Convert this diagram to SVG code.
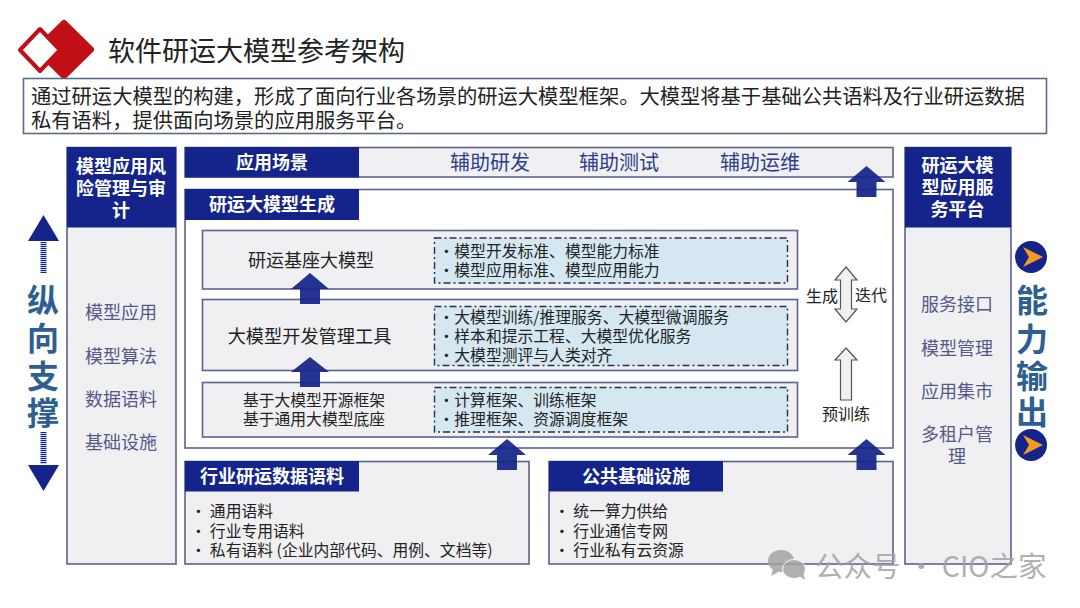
<svg xmlns="http://www.w3.org/2000/svg" width="1080" height="608" viewBox="0 0 1080 608">
<style>
text{font-family:"Noto Sans CJK SC","Liberation Sans",sans-serif;dominant-baseline:central;white-space:pre}
.m{text-anchor:middle}
.panel{fill:#f0f0f2;stroke:#5a6390;stroke-width:1.6}
.hd{fill:#14248a}
.ht{fill:#fff;font-size:18px;font-weight:700;text-anchor:middle}
.side{fill:#55598a;font-size:18px;text-anchor:middle}
.scene{fill:#2c3d8c;font-size:20px;text-anchor:middle}
.row{font-size:18px;fill:#222;text-anchor:middle}
.lst{font-size:15.800px;fill:#222}
.dash{fill:#d5e7f0;stroke:#2a2f4a;stroke-width:1.4;stroke-dasharray:7 3 2 3}
.blk{fill:#14248a;fill-opacity:.93}
.hollow{fill:#f0f0f0;stroke:#555;stroke-width:1.2}
.big{fill:#2e5f92;font-size:32px;font-weight:700;text-anchor:middle}
</style>
<defs>
<pattern id="dots" width="6" height="2" patternUnits="userSpaceOnUse"><rect width="6" height="1.2" fill="#14248a"/></pattern>
</defs>
<rect width="1080" height="608" fill="#fff"/>
<g id="logo">
<path d="M64 23 L91 49.500 L64 76 L37 49.500Z" fill="#c00f17" stroke="#c00f17" stroke-width="6" stroke-linejoin="round"/>
<path d="M40 29 L60 50 L40 71 L20 50Z" fill="#fff" stroke="#c00f17" stroke-width="4" stroke-linejoin="round"/>
</g>
<text id="title" x="108" y="49" font-size="27" fill="#222">软件研运大模型参考架构</text>
<g id="intro">
<rect x="23.500" y="78.500" width="1023" height="55" fill="#fff" stroke="#5a6a8a" stroke-width="1.6"/>
<text x="31" y="95" font-size="20.300" fill="#222">通过研运大模型的构建，形成了面向行业各场景的研运大模型框架。大模型将基于基础公共语料及行业研运数据</text>
<text x="31" y="119" font-size="20.300" fill="#222">私有语料，提供面向场景的应用服务平台。</text>
</g>
<g id="left-panel">
<rect class="panel" x="67" y="147.500" width="109" height="416.500"/>
<rect class="hd" x="67" y="147" width="109" height="80.500"/>
<text class="ht" x="121" y="165">模型应用风</text>
<text class="ht" x="121" y="187">险管理与审</text>
<text class="ht" x="121" y="209">计</text>
<text class="side" x="121" y="311">模型应用</text>
<text class="side" x="121" y="355">模型算法</text>
<text class="side" x="121" y="398">数据语料</text>
<text class="side" x="121" y="441">基础设施</text>
</g>
<g id="scene">
<rect class="panel" x="185" y="147.500" width="708" height="29.500"/>
<rect class="hd" x="185" y="147" width="174" height="30.500"/>
<text class="ht" x="272" y="161">应用场景</text>
<text class="scene" x="490" y="161.500">辅助研发</text>
<text class="scene" x="619" y="161.500">辅助测试</text>
<text class="scene" x="760" y="161.500">辅助运维</text>
</g>
<g id="generation">
<rect x="185" y="189.500" width="708" height="258.500" fill="#fff" stroke="#5a6390" stroke-width="1.6"/>
<rect class="hd" x="185" y="189" width="174" height="31"/>
<text class="ht" x="272" y="203">研运大模型生成</text>
</g>
<g id="row-base">
<rect class="panel" x="202.500" y="230.500" width="595" height="58.500"/>
<rect class="dash" x="434.500" y="238" width="353" height="45"/>
<text class="row" x="311" y="259">研运基座大模型</text>
<text class="lst" x="438.500" y="250">•模型开发标准、模型能力标准</text>
<text class="lst" x="438.500" y="269">•模型应用标准、模型应用能力</text>
</g>
<g id="row-tools">
<rect class="panel" x="202.500" y="299.500" width="595" height="71"/>
<rect class="dash" x="434.500" y="306.500" width="353" height="59"/>
<text class="row" x="309.500" y="335" style="font-size:18.200px">大模型开发管理工具</text>
<text class="lst" x="438.500" y="316">•大模型训练/推理服务、大模型微调服务</text>
<text class="lst" x="438.500" y="335">•样本和提示工程、大模型优化服务</text>
<text class="lst" x="438.500" y="354">•大模型测评与人类对齐</text>
</g>
<g id="row-framework">
<rect class="panel" x="202.500" y="382.500" width="595" height="54.500"/>
<rect class="dash" x="434.500" y="387.500" width="353" height="44.500"/>
<text class="m" x="314" y="399" font-size="15.800" fill="#222">基于大模型开源框架</text>
<text class="m" x="314" y="418" font-size="15.800" fill="#222">基于通用大模型底座</text>
<text class="lst" x="438.500" y="399">•计算框架、训练框架</text>
<text class="lst" x="438.500" y="418">•推理框架、资源调度框架</text>
</g>
<g id="data">
<rect class="panel" x="185" y="461.500" width="344" height="102.500"/>
<rect class="hd" x="185" y="461" width="174" height="30.500"/>
<text class="ht" x="272" y="475">行业研运数据语料</text>
<text class="lst" x="190.500" y="510">• 通用语料</text>
<text class="lst" x="190.500" y="530">• 行业专用语料</text>
<text class="lst" x="190.500" y="549">• 私有语料 (企业内部代码、用例、文档等)</text>
</g>
<g id="infra">
<rect class="panel" x="549" y="461.500" width="344" height="102.500"/>
<rect class="hd" x="549" y="461" width="174" height="30.500"/>
<text class="ht" x="636" y="475">公共基础设施</text>
<text class="lst" x="554" y="510">• 统一算力供给</text>
<text class="lst" x="554" y="530">• 行业通信专网</text>
<text class="lst" x="554" y="549">• 行业私有云资源</text>
</g>
<g id="right-panel">
<rect class="panel" x="905" y="147.500" width="106" height="416.500"/>
<rect class="hd" x="905" y="147" width="106" height="80.500"/>
<text class="ht" x="957.500" y="164">研运大模</text>
<text class="ht" x="957.500" y="186">型应用服</text>
<text class="ht" x="957.500" y="208">务平台</text>
<text class="side" x="957" y="303">服务接口</text>
<text class="side" x="957" y="347">模型管理</text>
<text class="side" x="957" y="390">应用集市</text>
<text class="side" x="957" y="433">多租户管</text>
<text class="side" x="957" y="455">理</text>
</g>
<g id="connectors">
<path class="blk" d="M310 273 L329 289 L320 289 L320 304 L300 304 L300 289 L291 289Z"/>
<path class="blk" d="M310 357 L329 372 L320 372 L320 387 L300 387 L300 372 L291 372Z"/>
<path class="blk" d="M507 439 L526 455 L517 455 L517 470 L497 470 L497 455 L488 455Z"/>
<path class="blk" d="M866.500 439 L885.500 455 L876.500 455 L876.500 470 L856.500 470 L856.500 455 L847.500 455Z"/>
<path class="blk" d="M866.500 166 L885.500 182 L876.500 182 L876.500 197 L856.500 197 L856.500 182 L847.500 182Z"/>
<path class="hollow" d="M846 267 L857 280 L851.500 280 L851.500 309 L857 309 L846 322 L835 309 L840.500 309 L840.500 280 L835 280Z"/>
<path class="hollow" d="M846 348 L857 360 L851.500 360 L851.500 400 L840.500 400 L840.500 360 L835 360Z"/>
</g>
<g id="iter-labels">
<text class="m" x="822" y="295" font-size="16" fill="#222">生成</text>
<text class="m" x="871" y="294" font-size="16" fill="#222">迭代</text>
<text class="m" x="846" y="413" font-size="16" fill="#222">预训练</text>
</g>
<g id="vertical-support">
<path d="M43.500 215 L59 241 L28 241Z" fill="#14248a"/>
<rect x="40.500" y="242" width="6" height="31" fill="url(#dots)"/>
<text class="big" x="43" y="298">纵</text>
<text class="big" x="43" y="336">向</text>
<text class="big" x="43" y="374">支</text>
<text class="big" x="43" y="411">撑</text>
<rect x="40.500" y="432" width="6" height="32" fill="url(#dots)"/>
<path d="M28 465 L59 465 L43.500 491Z" fill="#14248a"/>
</g>
<g id="capability-output">
<circle cx="1031" cy="257" r="16" fill="#14248a"/>
<path d="M1023 247 L1043 257 L1023 267 L1029 257Z" fill="#f39c1f"/>
<text class="big" x="1032" y="298">能</text>
<text class="big" x="1032" y="337">力</text>
<text class="big" x="1032" y="374">输</text>
<text class="big" x="1032" y="410">出</text>
<circle cx="1031" cy="445" r="16" fill="#14248a"/>
<path d="M1023 435 L1043 445 L1023 455 L1029 445Z" fill="#f39c1f"/>
</g>
<g id="watermark" opacity=".85">
<ellipse cx="781" cy="561" rx="13" ry="11" fill="#a3a3a3"/>
<path d="M773 569 L771 576 L780 571Z" fill="#a3a3a3"/>
<ellipse cx="794" cy="569" rx="11.500" ry="9.500" fill="#a3a3a3" stroke="#fff" stroke-width="1"/>
<path d="M799 576 L805 580 L803 572Z" fill="#a3a3a3"/>
<text x="815" y="564" font-size="28.500" fill="#a3a3a3">公众号 · CIO之家</text>
</g>
</svg>
